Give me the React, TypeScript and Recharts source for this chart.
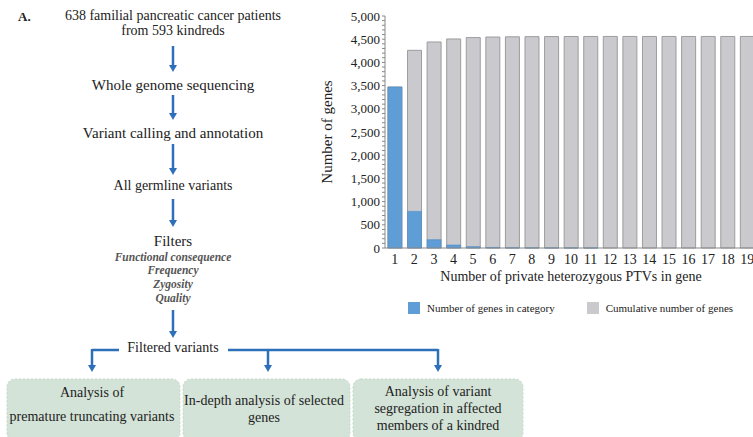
import React from "react"
import { Bar, BarChart, XAxis, YAxis, Legend } from "recharts"

const categories = ["1", "2", "3", "4", "5", "6", "7", "8", "9", "10", "11", "12", "13", "14", "15", "16", "17", "18", "19"]
const inCategory = [3470, 790, 180, 65, 30, 12, 5, 3, 2, 1, 1, 0, 0, 0, 0, 0, 0, 0, 0]
const cumulative = [3470, 4260, 4440, 4505, 4535, 4547, 4552, 4555, 4557, 4558, 4559, 4559, 4559, 4559, 4559, 4559, 4559, 4559, 4559]
const majorTicks = [0, 500, 1000, 1500, 2000, 2500, 3000, 3500, 4000, 4500, 5000]
const minorTicks = Array.from({ length: 51 }, (_, i) => i * 100)

const data = categories.map((n, i) => ({ n, count: inCategory[i], cum: cumulative[i] }))

const ARROW = "#2e6fba"
const SERIF = "'Liberation Serif', 'Times New Roman', serif"

function VArrow({ x, y1, y2 }: { x: number; y1: number; y2: number }) {
  return (
    <g>
      <line x1={x} y1={y1} x2={x} y2={y2 - 6} stroke={ARROW} strokeWidth={2.5} />
      <polygon points={`${x - 4},${y2 - 7} ${x + 4},${y2 - 7} ${x},${y2}`} fill={ARROW} />
    </g>
  )
}

function Flow() {
  const t = { fontFamily: SERIF, fill: "#222", textAnchor: "middle" as const }
  const filt = { fontFamily: SERIF, fill: "#555", textAnchor: "middle" as const, fontSize: 11.5, fontStyle: "italic", fontWeight: 700 }
  const box = { fill: "#d3e3d7", stroke: "#c3d7c8", strokeDasharray: "2 2", strokeWidth: 1 }
  return (
    <svg width={753} height={437} style={{ position: "absolute", left: 0, top: 0 }}>
      <text x={18} y={21} fontFamily={SERIF} fontWeight={700} fontSize={13} fill="#222">A.</text>
      <text x={173} y={20} fontSize={14} {...t}>638 familial pancreatic cancer patients</text>
      <text x={173} y={35} fontSize={14} {...t}>from 593 kindreds</text>
      <VArrow x={173} y1={46} y2={72} />
      <text x={173} y={90} fontSize={15} {...t}>Whole genome sequencing</text>
      <VArrow x={173} y1={95} y2={120} />
      <text x={173} y={138} fontSize={15} {...t}>Variant calling and annotation</text>
      <VArrow x={173} y1={144} y2={175} />
      <text x={173} y={190} fontSize={14} {...t}>All germline variants</text>
      <VArrow x={173} y1={199} y2={227} />
      <text x={173} y={246} fontSize={15} {...t}>Filters</text>
      <text x={173} y={261} {...filt}>Functional consequence</text>
      <text x={173} y={274} {...filt}>Frequency</text>
      <text x={173} y={288} {...filt}>Zygosity</text>
      <text x={173} y={302} {...filt}>Quality</text>
      <VArrow x={173} y1={310} y2={338} />
      <text x={173} y={352} fontSize={14} {...t}>Filtered variants</text>
      <polyline points="119,350 92,350" stroke={ARROW} strokeWidth={2.5} fill="none" />
      <VArrow x={92} y1={349} y2={372} />
      <polyline points="228,350 438,350" stroke={ARROW} strokeWidth={2.5} fill="none" />
      <VArrow x={268} y1={350} y2={372} />
      <VArrow x={438} y1={349} y2={372} />
      <rect x={7} y={379} width={173} height={62} rx={8} {...box} />
      <rect x={183} y={379} width={167} height={62} rx={8} {...box} />
      <rect x={353} y={379} width={170} height={62} rx={8} {...box} />
      <text x={92} y={397} fontSize={14} {...t}>Analysis of</text>
      <text x={92} y={421} fontSize={14} {...t}>premature truncating variants</text>
      <text x={264} y={405} fontSize={14} {...t}>In-depth analysis of selected</text>
      <text x={264} y={422} fontSize={14} {...t}>genes</text>
      <text x={438} y={396} fontSize={14} {...t}>Analysis of variant</text>
      <text x={438} y={413} fontSize={14} {...t}>segregation in affected</text>
      <text x={438} y={430} fontSize={14} {...t}>members of a kindred</text>
    </svg>
  )
}

function LegendContent({ payload }: any) {
  const items = [...(payload || [])].reverse()
  return (
    <div style={{ display: "flex", fontFamily: SERIF, fontSize: 11, color: "#222" }}>
      {items.map((e: any, i: number) => (
        <div key={i} style={{ display: "flex", alignItems: "center", marginRight: i === 0 ? 32 : 0 }}>
          <span style={{ width: 12, height: 12, background: e.color, display: "inline-block", marginRight: 7 }} />
          <span>{e.value}</span>
        </div>
      ))}
    </div>
  )
}

export default function App() {
  return (
    <div style={{ position: "fixed", left: 0, top: 0, width: 753, height: 437, overflow: "hidden", background: "#fff" }}>
      <Flow />
      <div style={{ position: "absolute", left: 300, top: 0 }}>
        <BarChart width={459} height={330} data={data} margin={{ top: 16, right: 2, left: 0, bottom: 37 }} barCategoryGap="15%">
          <XAxis
            dataKey="n"
            height={45}
            tickLine={false}
            tickSize={4}
            interval={0}
            stroke="#888"
            tick={{ fill: "#222", fontSize: 14, fontFamily: SERIF }}
            label={{ value: "Number of private heterozygous PTVs in gene", position: "insideBottom", offset: 12, fill: "#222", fontSize: 14, fontFamily: SERIF }}
          />
          <XAxis xAxisId="front" dataKey="n" hide />
          <YAxis
            width={85}
            domain={[0, 5000]}
            ticks={minorTicks}
            interval={0}
            tickSize={3}
            stroke="#888"
            tick={{ fill: "#222", fontSize: 13, fontFamily: SERIF }}
            tickFormatter={(v: number) => (majorTicks.includes(v) ? v.toLocaleString("en-US") : "")}
            label={{ value: "Number of genes", angle: -90, position: "insideLeft", offset: 27, fill: "#222", fontSize: 15, fontFamily: SERIF, style: { textAnchor: "middle" } }}
          />
          <Legend
            verticalAlign="middle"
            align="center"
            content={<LegendContent />}
            wrapperStyle={{ top: 302, left: 108, width: 340 }}
          />
          <Bar dataKey="cum" name="Cumulative number of genes" fill="#c9c9ce" stroke="#9d9d9d" strokeWidth={1} isAnimationActive={false} />
          <Bar dataKey="count" xAxisId="front" name="Number of genes in category" fill="#5f9dd6" stroke="#4d88c2" strokeWidth={0.5} isAnimationActive={false} />
        </BarChart>
      </div>
    </div>
  )
}
